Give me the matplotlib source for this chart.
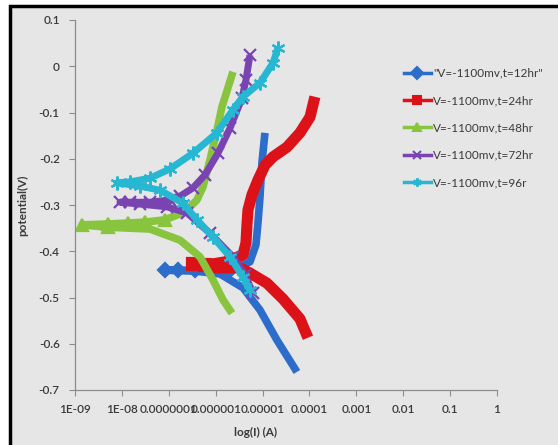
import matplotlib
matplotlib.use('Agg')
import matplotlib.pyplot as plt
import matplotlib.patches as patches
from matplotlib.lines import Line2D
from matplotlib.ticker import FixedLocator, FixedFormatter
import numpy as np

# log10 of current (A) and potential (V)
log_i_12hr = [-4.949, -5.013, -5.055, -5.098, -5.141, -5.269, -5.695, -6.441, -6.804, -7.081,
              -6.441, -5.908, -5.418, -5.055, -4.693, -4.267]
v_12hr = [-0.144, -0.209, -0.283, -0.339, -0.386, -0.423, -0.441, -0.441, -0.441, -0.441,
          -0.443, -0.449, -0.479, -0.527, -0.592, -0.661]

log_i_24hr = [-3.883, -3.989, -4.203, -4.480, -4.778, -4.949, -5.098, -5.226, -5.311, -5.333,
              -5.354, -5.418, -5.802, -6.228, -6.484, -6.122, -5.482, -5.269, -4.906, -4.565,
              -4.203, -4.032]
v_24hr = [-0.066, -0.110, -0.144, -0.175, -0.196, -0.214, -0.246, -0.278, -0.311, -0.343,
          -0.382, -0.408, -0.423, -0.430, -0.428, -0.436, -0.436, -0.447, -0.469, -0.503,
          -0.546, -0.587]

log_i_48hr = [-5.631, -5.866, -5.972, -6.122, -6.271, -6.399, -6.655, -7.081, -7.507, -7.870,
              -8.296, -8.851, -8.296, -7.401, -6.761, -6.335, -6.058, -5.844, -5.652]
v_48hr = [-0.012, -0.088, -0.138, -0.203, -0.261, -0.289, -0.315, -0.332, -0.337, -0.339,
          -0.341, -0.343, -0.348, -0.352, -0.376, -0.412, -0.462, -0.505, -0.534]

log_i_72hr = [-5.269, -5.354, -5.439, -5.695, -5.951, -6.228, -6.484, -6.761, -6.974, -7.401,
              -7.827, -8.041, -7.614, -7.038, -6.612, -6.122, -5.631, -5.375, -5.205]
v_72hr = [0.024, -0.030, -0.069, -0.134, -0.188, -0.235, -0.263, -0.281, -0.289, -0.294,
          -0.294, -0.294, -0.298, -0.304, -0.317, -0.361, -0.412, -0.451, -0.490]

log_i_96hr = [-4.672, -4.778, -5.055, -5.418, -5.631, -5.972, -6.484, -6.974, -7.401, -7.827,
              -8.104, -7.614, -7.188, -6.697, -6.399, -6.058, -5.695, -5.418, -5.269]
v_96hr = [0.039, 0.007, -0.036, -0.066, -0.094, -0.144, -0.188, -0.222, -0.242, -0.250,
          -0.252, -0.259, -0.268, -0.296, -0.332, -0.369, -0.412, -0.456, -0.484]

labels = ['"V=-1100mv,t=12hr"', 'V=-1100mv,t=24hr', 'V=-1100mv,t=48hr',
          'V=-1100mv,t=72hr', 'V=-1100mv,t=96r']
x_ticks = [1e-9, 1e-8, 1e-7, 1e-6, 1e-5, 1e-4, 1e-3, 1e-2, 1e-1, 1]
x_tick_labels = ['1E-09', '1E-08', '0.0000001', '0.000001', '0.00001', '0.0001',
                 '0.001', '0.01', '0.1', '1']
y_ticks = [0.1, 0, -0.1, -0.2, -0.3, -0.4, -0.5, -0.6, -0.7]
y_tick_labels = ['0.1', '0', '-0.1', '-0.2', '-0.3', '-0.4', '-0.5', '-0.6', '-0.7']

# (log current, volts, colour, marker, line width, marker size, points with visible markers)
series = [
    (log_i_12hr, v_12hr, '#2c6dcc', 'D', 5.5, 7, [6, 7, 8, 9]),
    (log_i_24hr, v_24hr, '#dd1219', 's', 8.0, 8, [13, 14]),
    (log_i_48hr, v_48hr, '#88c43e', '^', 5.5, 8, [7, 8, 9, 10, 11, 12]),
    (log_i_72hr, v_72hr, '#7a43b2', 'x', 5.0, 8, None),
    (log_i_96hr, v_96hr, '#27b7d3', (6, 2, 0), 5.0, 10, None),
]

plt.rcParams['font.family'] = ['Lato', 'DejaVu Sans']
bg = '#e6e6e6'
text_col = '#3a3a3a'

fig = plt.figure(figsize=(5.58, 4.45), dpi=100, facecolor='white')
# grey frame with black top/left border
fig.add_artist(patches.Rectangle((10 / 558, -0.05), 1.1, 1 - 6 / 445 + 0.05,
                                 transform=fig.transFigure, facecolor=bg,
                                 edgecolor='black', linewidth=2.5, zorder=0))

ax = fig.add_axes([75 / 558, 55 / 445, 422 / 558, 370 / 445])
ax.set_facecolor('none')

handles = []
for log_i, volts, color, marker, lw, ms, mark_at in series:
    current = 10 ** np.array(log_i)
    ax.plot(current, volts, color=color, lw=lw, marker=marker, ms=ms, markevery=mark_at,
            mew=1.6, solid_joinstyle='round', solid_capstyle='butt')
    handles.append(Line2D([], [], color=color, lw=2.5, marker=marker, ms=6, mew=1.5))

ax.set_xscale('log')
ax.set_xlim(1e-9, 1)
ax.set_ylim(-0.7, 0.1)
ax.xaxis.set_major_locator(FixedLocator(x_ticks))
ax.xaxis.set_major_formatter(FixedFormatter(x_tick_labels))
ax.xaxis.set_minor_locator(FixedLocator([]))
ax.set_yticks(y_ticks)
ax.set_yticklabels(y_tick_labels)

for side in ['top', 'right']:
    ax.spines[side].set_visible(False)
for side in ['left', 'bottom']:
    ax.spines[side].set_color('#8c8c8c')
    ax.spines[side].set_linewidth(0.9)
ax.tick_params(axis='both', direction='out', length=4, color='#8c8c8c',
               labelsize=8.5, labelcolor=text_col)
ax.tick_params(axis='y', pad=7)
ax.tick_params(axis='x', pad=6)
for t in ax.get_xticklabels() + ax.get_yticklabels():
    t.set_fontweight('semibold')

ax.set_xlabel('log(I) (A)', fontsize=8.5, fontweight='bold', color=text_col)
ax.xaxis.set_label_coords(0.427, -0.1)
ax.set_ylabel('potential(V)', fontsize=8.5, fontweight='bold', color=text_col)
ax.yaxis.set_label_coords(-0.11, 0.5)

leg = ax.legend(handles, labels, loc='upper left', bbox_to_anchor=(398 / 558, 1 - 62 / 445),
                bbox_transform=fig.transFigure, frameon=False, fontsize=8.5,
                handlelength=2.3, handletextpad=0.15, labelspacing=1.38, borderpad=0)
for t in leg.get_texts():
    t.set_color(text_col)

fig.savefig('out.png', dpi=100, facecolor=fig.get_facecolor())
